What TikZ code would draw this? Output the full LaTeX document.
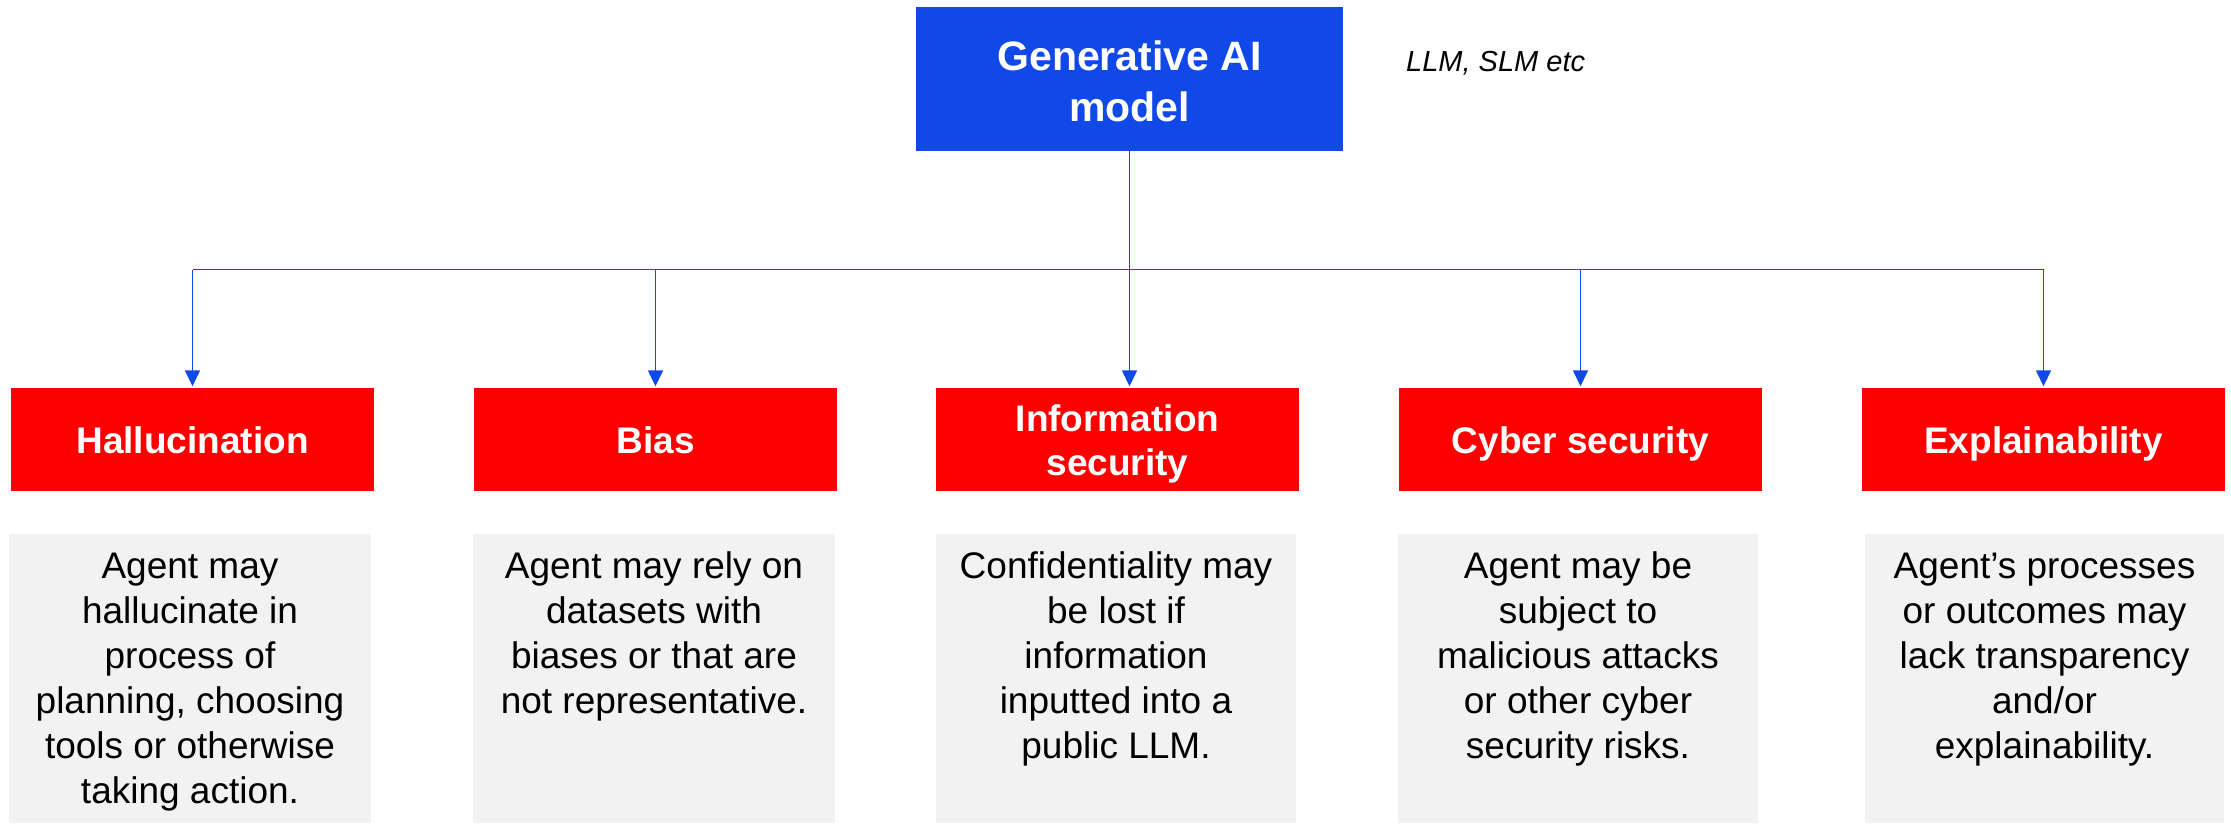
\documentclass[tikz,border=0pt]{standalone}
\usepackage{fontspec}
\setmainfont{Liberation Sans}
\usetikzlibrary{arrows.meta}

\definecolor{aiblue}{RGB}{17,73,232}
\definecolor{riskred}{RGB}{255,0,0}
\definecolor{notegray}{RGB}{242,242,242}

% centred lines whose baseline is the first line's baseline
\newcommand{\stackedtext}[1]{\begin{tabular}[t]{@{}c@{}}#1\end{tabular}}

\tikzset{
  modelbox/.style={fill=aiblue, text=white, inner sep=0pt,
    minimum width=427pt, minimum height=144pt,
    font=\bfseries\fontsize{41}{51}\selectfont,
    text height=30pt, text depth=48pt},
  riskbox/.style={fill=riskred, text=white, inner sep=0pt,
    minimum width=363pt, minimum height=103pt,
    font=\bfseries\fontsize{37}{44}\selectfont,
    text height=27pt, text depth=0pt},
  tworow/.style={text depth=44pt},
  notebox/.style={fill=notegray, text=black, inner sep=0pt,
    minimum height=289pt,
    font=\fontsize{37}{45}\selectfont,
    text height=30pt, text depth=231pt},
  link/.style={draw=aiblue, line width=1.5pt},
  arrowlink/.style={link, -{Triangle[length=16pt,width=15pt]}, shorten >=1.5pt}
}

\begin{document}
\begin{tikzpicture}[x=1pt, y=-1pt]
  \useasboundingbox (0,0) rectangle (2231,823);

  % model at the top
  \node[modelbox] (model) at (1129.5,79) {\stackedtext{Generative AI\\model}};
  \node[anchor=base west, inner sep=0pt, font=\itshape\fontsize{29}{34}\selectfont]
    (examples) at (1406,71) {LLM, SLM etc};

  % risk headings
  \node[riskbox] (hal) at (192.5,439.5) {\stackedtext{Hallucination}};
  \node[riskbox] (bias) at (655.5,439.5) {\stackedtext{Bias}};
  \node[riskbox, tworow] (info) at (1117.5,439.5) {\stackedtext{Information\\security}};
  \node[riskbox] (cyber) at (1580.5,439.5) {\stackedtext{Cyber security}};
  \node[riskbox] (expl) at (2043.5,439.5) {\stackedtext{Explainability}};

  % descriptions
  \node[notebox, minimum width=362pt] (halnote) at (190,678.5)
    {\stackedtext{Agent may\\hallucinate in\\process of\\planning, choosing\\tools or otherwise\\taking action.}};
  \node[notebox, minimum width=362pt] (biasnote) at (654,678.5)
    {\stackedtext{Agent may rely on\\datasets with\\biases or that are\\not representative.}};
  \node[notebox, minimum width=360pt] (infonote) at (1116,678.5)
    {\stackedtext{Confidentiality may\\be lost if\\information\\inputted into a\\public LLM.}};
  \node[notebox, minimum width=360pt] (cybernote) at (1578,678.5)
    {\stackedtext{Agent may be\\subject to\\malicious attacks\\or other cyber\\security risks.}};
  \node[notebox, minimum width=359pt] (explnote) at (2044.5,678.5)
    {\stackedtext{Agent’s processes\\or outcomes may\\lack transparency\\and/or\\explainability.}};

  % branching connectors
  \coordinate (bus) at (0,269.5);
  \draw[link] (hal.north |- bus) -- (expl.north |- bus);
  \draw[arrowlink] (model.south) -- (model.south |- info.north);
  \draw[arrowlink] (hal.north |- bus) -- (hal.north);
  \draw[arrowlink] (bias.north |- bus) -- (bias.north);
  \draw[arrowlink] (cyber.north |- bus) -- (cyber.north);
  \draw[arrowlink] (expl.north |- bus) -- (expl.north);
\end{tikzpicture}
\end{document}
